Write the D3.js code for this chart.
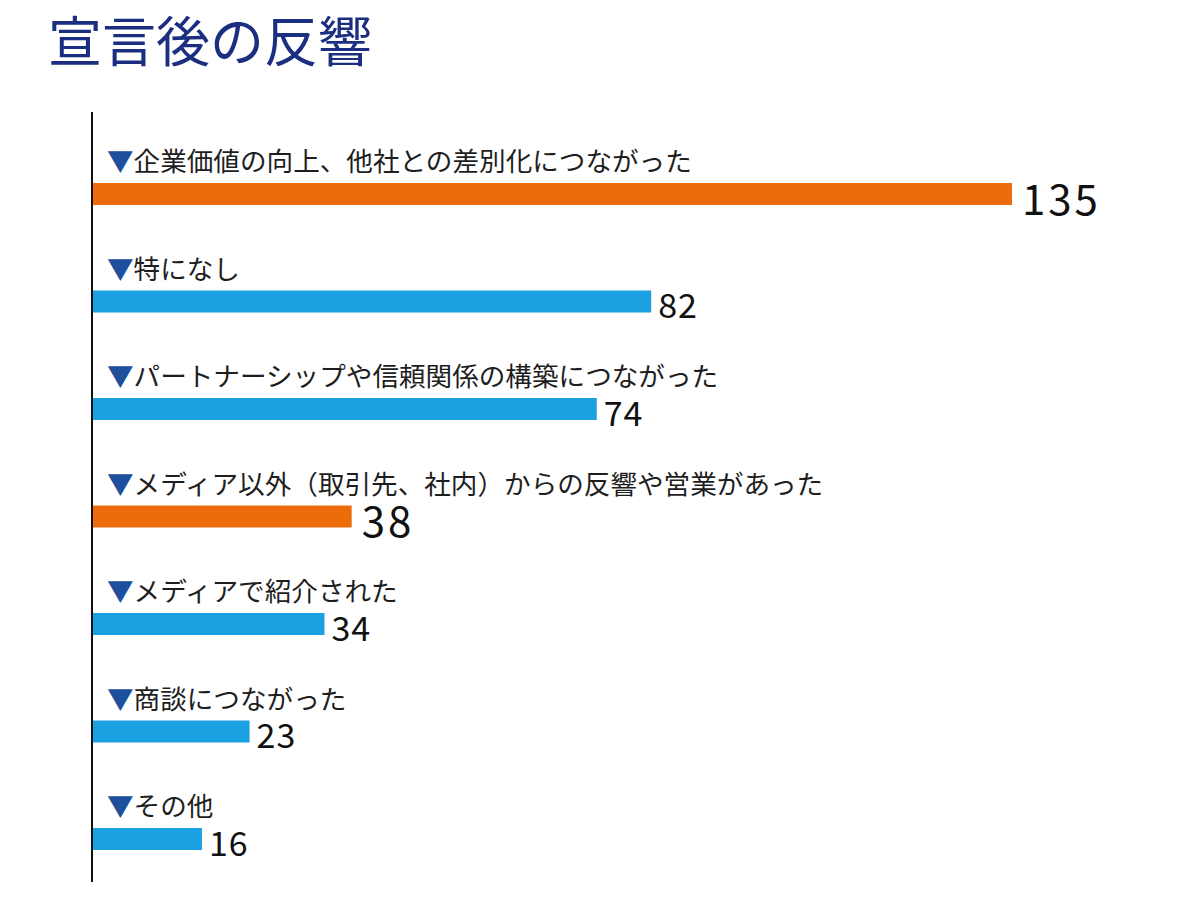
<!DOCTYPE html>
<html>
<head>
<meta charset="utf-8">
<script src="https://cdn.jsdelivr.net/npm/d3@7"></script>
<style>
  body { margin: 0; background: #fff; }
  text { font-family: "Noto Sans CJK JP", "Noto Sans", sans-serif; }
</style>
</head>
<body>
<div id="chart_here"></div>
<script>
// 宣言後の反響 - horizontal bars
var title = "宣言後の反響";
var categories = [
  "企業価値の向上、他社との差別化につながった",
  "特になし",
  "パートナーシップや信頼関係の構築につながった",
  "メディア以外（取引先、社内）からの反響や営業があった",
  "メディアで紹介された",
  "商談につながった",
  "その他"
];
var values = [135, 82, 74, 38, 34, 23, 16];
var highlighted = [
  "企業価値の向上、他社との差別化につながった",
  "メディア以外（取引先、社内）からの反響や営業があった"
];

var width = 1184, height = 914;
var orange = "#ec6c0c", blue = "#1ba0e2";

var data = categories.map(function(c, i) { return {cat: c, val: values[i]}; });

var svg = d3.select("#chart_here")
  .append("svg")
  .attr("width", width)
  .attr("height", height);

svg.append("text")
  .attr("x", 48)
  .attr("y", 38)
  .attr("dominant-baseline", "central")
  .style("font-size", "54px")
  .style("fill", "#1b2e80")
  .text(title);

var x = d3.scaleLinear()
  .domain([0, 135])
  .range([93, 1012]);

var y = d3.scaleBand()
  .domain(categories)
  .range([140.25, 892.75])
  .padding(0);

var barH = 22;
var mid = function(d) { return y(d.cat) + y.bandwidth() / 2; };
var isHi = function(d) { return highlighted.indexOf(d.cat) >= 0; };

// bars
svg.selectAll("mybar")
  .data(data)
  .enter()
  .append("rect")
    .attr("x", x(0))
    .attr("y", function(d) { return mid(d) - barH / 2; })
    .attr("width", function(d) { return x(d.val) - x(0); })
    .attr("height", barH)
    .attr("fill", function(d) { return isHi(d) ? orange : blue; });

// category labels with the little triangle
var lab = svg.selectAll("mylabel")
  .data(data)
  .enter()
  .append("text")
    .attr("x", 107)
    .attr("y", function(d) { return mid(d) - 35; })
    .attr("dominant-baseline", "central")
    .style("font-size", "26.6px")
    .style("fill", "#1e1e1e");
lab.append("tspan")
  .style("fill", "#1d4f9c")
  .text("▼");
lab.append("tspan")
  .text(function(d) { return d.cat; });

// value labels
svg.selectAll("myvalue")
  .data(data)
  .enter()
  .append("text")
    .attr("x", function(d) { return x(d.val) + (isHi(d) ? 10 : 7); })
    .attr("y", function(d) { return mid(d) + 2; })
    .attr("dominant-baseline", "central")
    .style("font-size", function(d) { return isHi(d) ? "42px" : "34px"; })
    .style("letter-spacing", function(d) { return isHi(d) ? "3px" : "1px"; })
    .style("fill", "#111")
    .text(function(d) { return d.val; });

// vertical axis line
svg.append("line")
  .attr("x1", 92)
  .attr("x2", 92)
  .attr("y1", 112)
  .attr("y2", 882)
  .attr("stroke", "#111")
  .attr("stroke-width", 2);
</script>
</body>
</html>
